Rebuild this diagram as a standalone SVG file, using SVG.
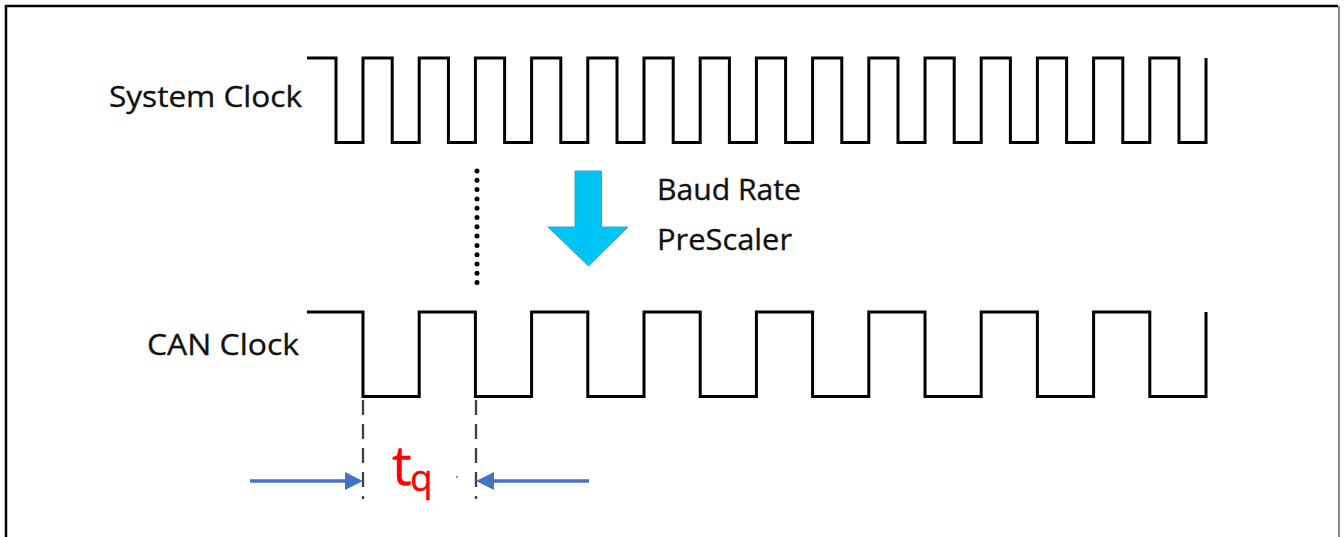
<svg xmlns="http://www.w3.org/2000/svg" width="1344" height="537" viewBox="0 0 1344 537">
  <style>
    .wave { fill: none; stroke: #000; stroke-width: 3; stroke-linejoin: miter; }
    .label { font-family: "Open Sans", "DejaVu Sans", sans-serif; font-size: 30px; fill: #111; stroke: #111; stroke-width: 0.35; }
    .dash { stroke: #404040; stroke-width: 2.3; stroke-dasharray: 15 9; fill: none; }
    .blue { stroke: #4472C4; stroke-width: 3.5; fill: none; }
    .tq { font-family: "Open Sans", "DejaVu Sans", sans-serif; fill: #FF0000; stroke: #FF0000; stroke-width: 0.4; }
  </style>
  <defs>
    <marker id="ah" viewBox="0 0 18 18" refX="0" refY="9" markerWidth="18" markerHeight="18" markerUnits="userSpaceOnUse" orient="auto">
      <path d="M0,0 L18,9 L0,18 z" fill="#4472C4"/>
    </marker>
  </defs>
  <rect width="1344" height="537" fill="#fff"/>
  <g id="frame">
    <path d="M6,537 V6 H1338" fill="none" stroke="#000" stroke-width="2.5"/>
    <path d="M1339,6 V537" fill="none" stroke="#666" stroke-width="1.5"/>
  </g>
  <g id="system-clock">
    <text class="label" x="109" y="107" textLength="193" lengthAdjust="spacingAndGlyphs">System Clock</text>
    <path class="wave" d="M307,58 H336 V142.5 H363 V58 H392.2 V142.5 H419.2 V58 H448.4 V142.5 H475.4 V58 H504.6 V142.5 H531.6 V58 H560.8 V142.5 H587.8 V58 H617 V142.5 H644 V58 H673.2 V142.5 H700.2 V58 H729.4 V142.5 H756.4 V58 H785.6 V142.5 H812.6 V58 H841.8 V142.5 H868.8 V58 H898 V142.5 H925 V58 H954.2 V142.5 H981.2 V58 H1010.4 V142.5 H1037.4 V58 H1066.6 V142.5 H1093.6 V58 H1122.8 V142.5 H1149.8 V58 H1179 V142.5 H1206 V58"/>
  </g>
  <g id="prescaler">
    <path d="M575,171 H601.5 V227 H628 L588.5,266 L548,227 H575 Z" fill="#00C4F4" stroke="#4A9CC0" stroke-width="1"/>
    <text class="label" x="657" y="200" textLength="144" lengthAdjust="spacingAndGlyphs">Baud Rate</text>
    <text class="label" x="657" y="250" textLength="135" lengthAdjust="spacingAndGlyphs">PreScaler</text>
  </g>
  <g id="can-clock">
    <text class="label" x="147" y="355" textLength="152" lengthAdjust="spacingAndGlyphs">CAN Clock</text>
    <path class="wave" d="M307,312 H363 V396.5 H419.2 V312 H475.4 V396.5 H531.6 V312 H587.8 V396.5 H644 V312 H700.2 V396.5 H756.4 V312 H812.6 V396.5 H868.8 V312 H925 V396.5 H981.2 V312 H1037.4 V396.5 H1093.6 V312 H1149.8 V396.5 H1206 V312"/>
  </g>
  <g id="tq-label">
    <text class="tq" x="392" y="485" font-size="55">t</text>
    <text class="tq" x="410" y="491" font-size="37">q</text>
    <circle cx="457" cy="477" r="1.2" fill="#999"/>
  </g>
  <g id="connectors">
    <path d="M477,171 V283" fill="none" stroke="#000" stroke-width="5" stroke-linecap="round" stroke-dasharray="0 9.3"/>
    <path class="dash" d="M363,400 V499"/>
    <path class="dash" d="M476,400 V499"/>
    <path class="blue" d="M250,481 H345" marker-end="url(#ah)"/>
    <path class="blue" d="M589,481 H494" marker-end="url(#ah)"/>
  </g>
</svg>
